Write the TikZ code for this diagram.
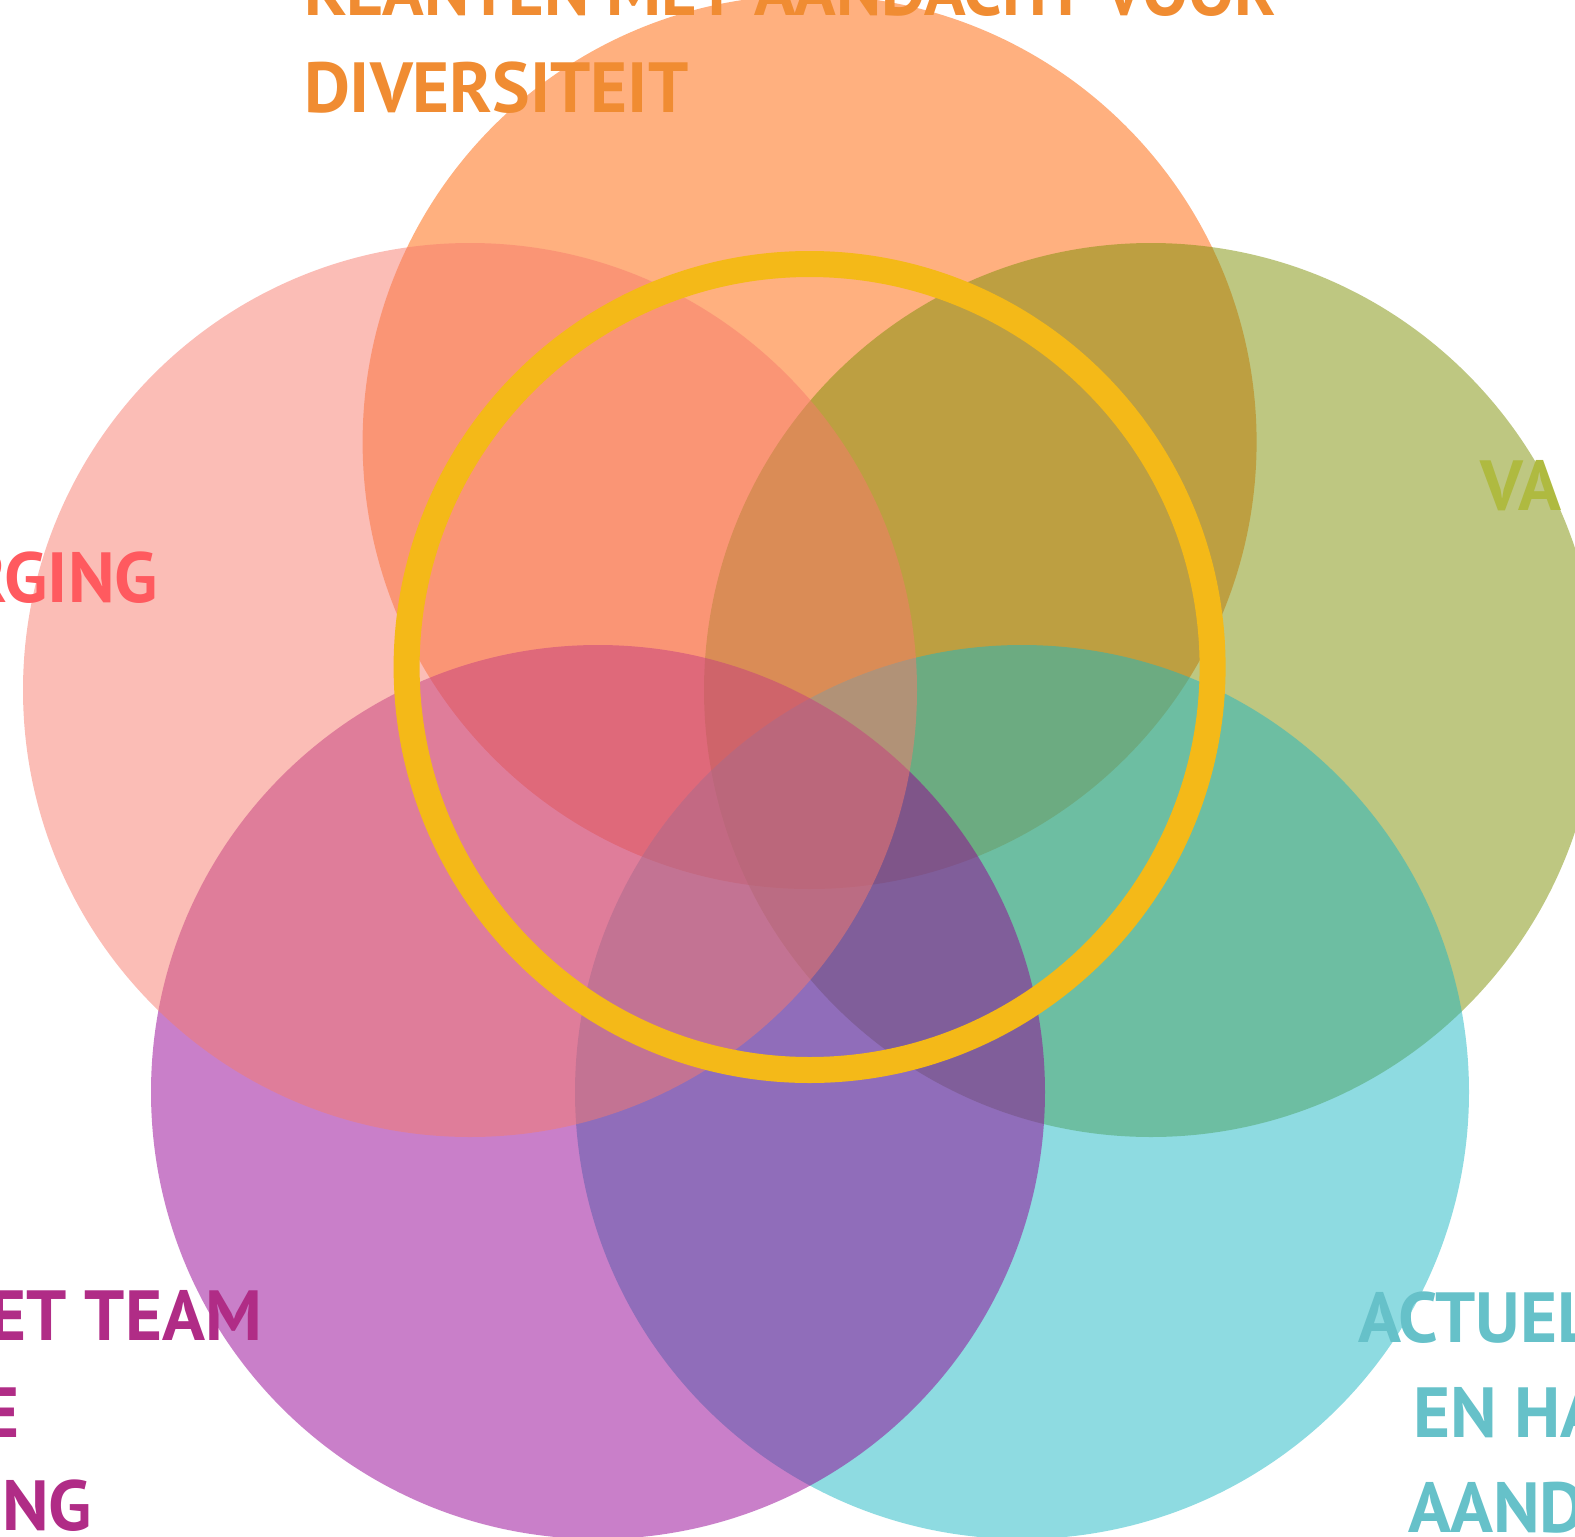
\documentclass[tikz,border=0pt]{standalone}
\usepackage{fontspec}
\setmainfont{PT Sans}
\definecolor{orangebase}{RGB}{255,97,0}
\definecolor{olivebase}{RGB}{125,143,3}
\definecolor{cyanbase}{RGB}{29,183,195}
\definecolor{purplebase}{RGB}{147,0,147}
\definecolor{pinkbase}{RGB}{247,123,109}
\definecolor{ringyellow}{RGB}{244,185,24}
\definecolor{txtorange}{RGB}{240,140,50}
\definecolor{txtpink}{RGB}{255,90,95}
\definecolor{txtolive}{RGB}{175,186,64}
\definecolor{txtpurple}{RGB}{176,44,134}
\definecolor{txtcyan}{RGB}{102,193,201}
\begin{document}
\begin{tikzpicture}[x=1pt,y=-1pt,
  blob/.style={circle, inner sep=0pt, outer sep=0pt, minimum size=894pt, draw=none, fill opacity=0.5},
  lbl/.style={inner sep=0pt, outer sep=0pt, font=\bfseries\fontsize{71}{71}\selectfont}]
\useasboundingbox (0,0) rectangle (1575,1537);
% circles, bottom to top
\node[blob, fill=orangebase] (corange) at (809.6,442) {};
\node[blob, fill=olivebase] (colive) at (1151,690) {};
\node[blob, fill=cyanbase] (ccyan) at (1022,1092) {};
\node[blob, fill=purplebase] (cpurple) at (598,1092) {};
\node[blob, fill=pinkbase] (cpink) at (470,690) {};
% ring
\node[circle, inner sep=0pt, minimum size=806pt, draw=ringyellow, line width=26pt] (ring) at (809.6,667) {};
% labels
\node[lbl, text=txtorange, anchor=base west, xscale=0.968, transform shape] (t1) at (304,15) {KLANTEN MET AANDACHT VOOR};
\node[lbl, text=txtorange, anchor=base west] (t2) at (304,112) {DIVERSITEIT};
\node[lbl, text=txtpink, anchor=base east] (p1) at (158,602) {RGING};
\node[lbl, text=txtolive, anchor=base west] (o1) at (1480,510) {VA};
\node[lbl, text=txtpurple, anchor=base east] (u1) at (262,1340) {ET TEAM};
\node[lbl, text=txtpurple, anchor=base east] (u2) at (20,1437) {E};
\node[lbl, text=txtpurple, anchor=base east] (u3) at (92,1530) {ING};
\node[lbl, text=txtcyan, anchor=base west] (a1) at (1358,1342) {ACTUEL};
\node[lbl, text=txtcyan, anchor=base west] (a2) at (1413,1437) {EN HA};
\node[lbl, text=txtcyan, anchor=base west] (a3) at (1408,1532) {AAND};
\end{tikzpicture}
\end{document}
